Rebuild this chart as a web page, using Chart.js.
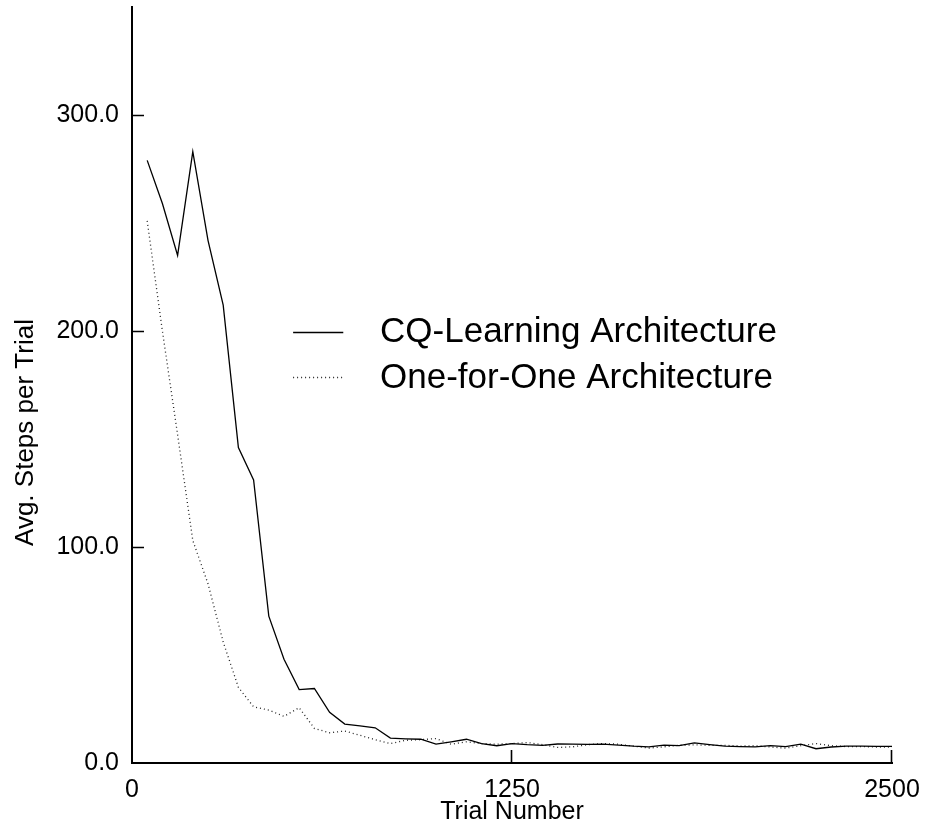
<!DOCTYPE html>
<html>
<head>
<meta charset="utf-8">
<script src="https://cdn.jsdelivr.net/npm/chart.js@4.4.1/dist/chart.umd.min.js"></script>
<style>
  html, body { margin: 0; padding: 0; background: #fff; }
  #wrap { width: 927px; height: 831px; }
</style>
</head>
<body>
<div id="wrap"><canvas id="c" width="927" height="831"></canvas></div>
<script>
// Trial numbers (one average every 50 trials)
const trials = [
  50, 100, 150, 200, 250, 300, 350, 400, 450, 500,
  550, 600, 650, 700, 750, 800, 850, 900, 950, 1000,
  1050, 1100, 1150, 1200, 1250, 1300, 1350, 1400, 1450, 1500,
  1550, 1600, 1650, 1700, 1750, 1800, 1850, 1900, 1950, 2000,
  2050, 2100, 2150, 2200, 2250, 2300, 2350, 2400, 2450, 2500
];

// Average steps per trial, CQ-Learning architecture
const cqSteps = [
  279, 259, 235, 283, 242, 212, 146, 131, 68, 48,
  34, 34.5, 23.5, 18, 17.2, 16.3, 11.5, 11.2, 11, 8.7,
  9.8, 11, 9, 8, 9, 8.5, 8.2, 8.8, 8.7, 8.6,
  8.7, 8.3, 7.8, 7.5, 8.3, 8, 9.3, 8.5, 7.8, 7.6,
  7.5, 8, 7.6, 8.7, 6.6, 7.4, 7.8, 7.8, 7.7, 7.7
];

// Average steps per trial, One-for-One architecture
const oneForOneSteps = [
  251, 200, 152, 103, 83, 56, 35, 26, 24.5, 21.6,
  25.6, 16, 14, 14.8, 12.8, 10.8, 9, 10.5, 10.8, 11.3,
  8.7, 9.8, 9, 8.7, 9, 9.5, 8.5, 7.2, 7.5, 8.5,
  9, 8.7, 7.8, 6.9, 7.5, 8.2, 8.4, 8.2, 8.2, 7.8,
  8, 7.4, 6.9, 8, 9, 8, 7.6, 7.6, 7.4, 7.3
];

const seriesLabels = ['CQ-Learning Architecture', 'One-for-One Architecture'];
const xTickValues = [0, 1250, 2500];
const yTickValues = [0, 100, 200, 300];
const xTitle = 'Trial Number';
const yTitle = 'Avg. Steps per Trial';

const FONT = '"Liberation Sans", Arial, Helvetica, sans-serif';

const toPoints = (ys) => trials.map((t, i) => ({ x: t, y: ys[i] }));

// Keep the plot box fixed: no extra room reserved for end labels
const noEdgePadding = (scale) => {
  scale.paddingTop = 0;
  scale.paddingBottom = 0;
  scale.paddingLeft = 0;
  scale.paddingRight = 0;
};

// Short inward tick marks on both axes
const innerTicks = {
  id: 'innerTicks',
  afterDraw(chart) {
    const { ctx, chartArea, scales } = chart;
    ctx.save();
    ctx.strokeStyle = '#000';
    ctx.lineWidth = 1.6;
    ctx.beginPath();
    yTickValues.forEach(v => {
      if (v === 0) return;
      const y = Math.round(scales.y.getPixelForValue(v)) + 0.5;
      ctx.moveTo(chartArea.left, y);
      ctx.lineTo(chartArea.left + 12, y);
    });
    xTickValues.forEach(v => {
      if (v === 0) return;
      const x = Math.round(scales.x.getPixelForValue(v)) - 0.5;
      ctx.moveTo(x, chartArea.bottom);
      ctx.lineTo(x, chartArea.bottom - 13);
    });
    ctx.stroke();
    ctx.restore();
  }
};

// Vertical axis title, set slightly below the middle of the axis
const yAxisTitle = {
  id: 'yAxisTitle',
  afterDraw(chart) {
    const { ctx, scales } = chart;
    const cy = scales.y.getPixelForValue(153);
    ctx.save();
    ctx.translate(26, cy);
    ctx.rotate(-Math.PI / 2);
    ctx.fillStyle = '#000';
    ctx.font = '26px ' + FONT;
    ctx.textAlign = 'center';
    ctx.textBaseline = 'middle';
    ctx.fillText(yTitle, 0, 0);
    ctx.restore();
  }
};

// Legend drawn inside the plot, line sample followed by the label
const insideLegend = {
  id: 'insideLegend',
  afterDraw(chart) {
    const { ctx, scales } = chart;
    const x0 = scales.x.getPixelForValue(530);
    const x1 = scales.x.getPixelForValue(695);
    const xt = scales.x.getPixelForValue(816);
    const rowY = [scales.y.getPixelForValue(199.7), scales.y.getPixelForValue(178.6)];
    ctx.save();
    chart.data.datasets.forEach((ds, i) => {
      const y = Math.round(rowY[i]) + 0.5;
      ctx.beginPath();
      ctx.strokeStyle = ds.borderColor;
      ctx.lineWidth = ds.borderWidth;
      ctx.setLineDash(ds.borderDash || []);
      ctx.moveTo(x0, y);
      ctx.lineTo(x1, y);
      ctx.stroke();
      ctx.setLineDash([]);
      ctx.fillStyle = '#000';
      ctx.font = '35px ' + FONT;
      ctx.textAlign = 'left';
      ctx.textBaseline = 'middle';
      ctx.fillText(ds.label, xt, rowY[i] + 1);
    });
    ctx.restore();
  }
};

new Chart(document.getElementById('c'), {
  type: 'line',
  data: {
    datasets: [
      {
        label: seriesLabels[0],
        data: toPoints(cqSteps),
        borderColor: '#000',
        borderWidth: 1.3,
        pointRadius: 0,
        tension: 0,
        fill: false
      },
      {
        label: seriesLabels[1],
        data: toPoints(oneForOneSteps),
        borderColor: '#222',
        borderWidth: 1.3,
        borderDash: [1, 3],
        pointRadius: 0,
        tension: 0,
        fill: false
      }
    ]
  },
  options: {
    responsive: false,
    animation: false,
    devicePixelRatio: 1,
    layout: { autoPadding: false, padding: { top: 7, right: 35, left: 0, bottom: 0 } },
    plugins: {
      legend: { display: false },
      tooltip: { enabled: false }
    },
    scales: {
      x: {
        type: 'linear',
        min: 0,
        max: 2500,
        afterBuildTicks(scale) { scale.ticks = xTickValues.map(v => ({ value: v })); },
        afterFit(scale) { scale.height = 68; noEdgePadding(scale); },
        grid: { display: true, drawOnChartArea: false, drawTicks: false },
        border: { display: true, color: '#000', width: 2 },
        ticks: {
          padding: 12,
          maxRotation: 0,
          color: '#000',
          font: { family: FONT, size: 25 },
          callback: (v) => String(v)
        },
        title: {
          display: true,
          text: xTitle,
          color: '#000',
          font: { family: FONT, size: 25 },
          padding: { top: 0, bottom: 4 }
        }
      },
      y: {
        type: 'linear',
        min: 0,
        max: 350,
        afterBuildTicks(scale) { scale.ticks = yTickValues.map(v => ({ value: v })); },
        afterFit(scale) { scale.width = 132; noEdgePadding(scale); },
        grid: { display: true, drawOnChartArea: false, drawTicks: false },
        border: { display: true, color: '#000', width: 2 },
        ticks: {
          padding: 13,
          color: '#000',
          font: { family: FONT, size: 25 },
          callback: (v) => Number(v).toFixed(1)
        }
      }
    }
  },
  plugins: [innerTicks, yAxisTitle, insideLegend]
});
</script>
</body>
</html>
